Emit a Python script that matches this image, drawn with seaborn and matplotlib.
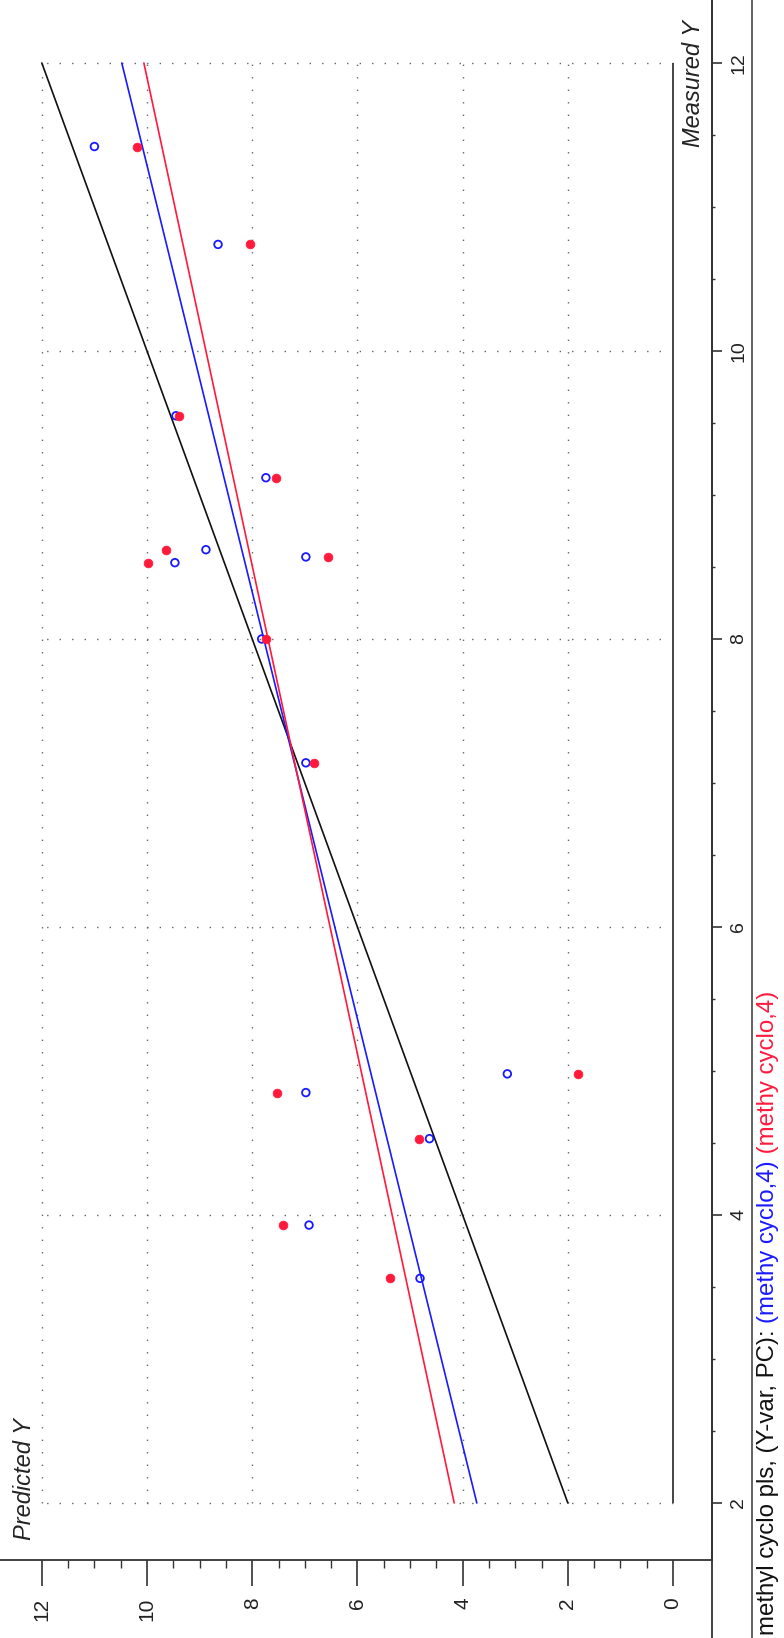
import numpy as np
import pandas as pd
import matplotlib
matplotlib.use("Agg")
import matplotlib.pyplot as plt
import seaborn as sns
from matplotlib.ticker import FixedLocator
from matplotlib.lines import Line2D

# ---------------- data ----------------
measured = [11.42, 10.74, 9.55, 9.12, 8.62, 8.53, 8.57, 8.00, 7.14, 4.98, 4.85, 4.53, 3.93, 3.56]
pred_blue = [11.00, 8.65, 9.45, 7.74, 8.88, 9.47, 6.98, 7.82, 6.98, 3.15, 6.98, 4.63, 6.92, 4.81]
pred_red = [10.19, 8.04, 9.39, 7.55, 9.63, 9.99, 6.55, 7.74, 6.82, 1.80, 7.52, 4.82, 7.41, 5.38]

line_measured = [2, 12]
line_black = [2, 12]          # target (identity) line
line_blue = [3.73, 10.48]     # fitted line, series 1
line_red = [4.16, 10.06]      # fitted line, series 2

pred_ticks = [0, 2, 4, 6, 8, 10, 12]
pred_minor = [v for v in np.arange(0.5, 12.0, 0.5) if v % 2 != 0]
meas_ticks = [2, 4, 6, 8, 10, 12]
meas_minor = [v for v in np.arange(2.5, 12.0, 0.5) if v % 2 != 0]
pred_grid = [2, 4, 6, 8, 10, 12]

x_label = "Predicted Y"
y_label = "Measured Y"
title_parts = ["methyl cyclo pls, (Y-var, PC): ", "(methy cyclo,4)", " (methy cyclo,4)"]
title_colors = ["#111111", "#1a1aff", "#ff1a3c"]

BLUE = "#1a1aff"
RED = "#ff1a3c"
AX = "#333333"

# ---------------- style ----------------
sns.set_theme(style="white")
plt.rcParams["font.family"] = ["Liberation Sans", "DejaVu Sans"]

fig = plt.figure(figsize=(7.84, 16.38), dpi=100)
W, H = 784.0, 1638.0
ax = fig.add_axes([0, 78 / H, 712 / W, 1560 / H])
ax.set_facecolor("white")

pts = pd.DataFrame({"measured": measured, "blue": pred_blue, "red": pred_red})
lines = pd.DataFrame({"measured": line_measured, "black": line_black,
                      "blue": line_blue, "red": line_red})

# grid
grid_kw = dict(color="#666666", linewidth=1.0, linestyle=(0, (1.0, 8.0)), zorder=1)
ax.vlines(pred_grid, 2, 12, **grid_kw)
ax.hlines(meas_ticks, 0, 12, **grid_kw)
ax.vlines([0], 2, 12, color="#444444", linewidth=1.4, zorder=1)

# lines
sns.lineplot(data=lines, x="black", y="measured", color="#111111", linewidth=1.2,
             sort=False, ax=ax, zorder=2)
sns.lineplot(data=lines, x="blue", y="measured", color=BLUE, linewidth=1.2,
             sort=False, ax=ax, zorder=2)
sns.lineplot(data=lines, x="red", y="measured", color=RED, linewidth=1.2,
             sort=False, ax=ax, zorder=2)

# points
sns.scatterplot(data=pts, x="blue", y="measured", marker="o", s=30,
                facecolors="none", edgecolors=BLUE, linewidth=1.3, ax=ax, zorder=3)
sns.scatterplot(data=pts, x="red", y="measured", marker="o", s=40,
                color=RED, edgecolor=RED, linewidth=0.5, ax=ax, zorder=3)

# axes ranges (predicted increases to the left, measured increases upward)
ax.set_xlim(12.795, -0.741)
ax.set_ylim(1.604, 12.4375)

for s in ["top", "left"]:
    ax.spines[s].set_visible(False)
for s in ["bottom", "right"]:
    ax.spines[s].set_visible(True)
    ax.spines[s].set_color(AX)
    ax.spines[s].set_linewidth(1.3)

ax.xaxis.set_major_locator(FixedLocator(pred_ticks))
ax.xaxis.set_minor_locator(FixedLocator(pred_minor))
ax.yaxis.set_major_locator(FixedLocator(meas_ticks))
ax.yaxis.set_minor_locator(FixedLocator(meas_minor))
ax.set_xticklabels([str(v) for v in pred_ticks])
ax.set_yticklabels([str(v) for v in meas_ticks])
ax.yaxis.tick_right()
ax.xaxis.tick_bottom()

ax.tick_params(axis="x", which="major", direction="out", length=19, width=1.2,
               color=AX, labelsize=15, labelrotation=90, pad=8, labelcolor="#222222")
ax.tick_params(axis="x", which="minor", direction="out", length=6, width=1.0, color=AX,
               bottom=True)
ax.tick_params(axis="y", which="major", direction="out", length=7, width=1.2,
               color=AX, labelsize=14, labelrotation=90, pad=6, labelcolor="#222222",
               right=True, left=False)
ax.tick_params(axis="y", which="minor", direction="out", length=2.5, width=1.0, color=AX,
               right=True, left=False)
for lab in ax.get_yticklabels():
    lab.set_verticalalignment("center")
ax.set_xlabel("")
ax.set_ylabel("")
ax.grid(False)

# axis titles inside the plot
ax.text(25 / 712, (1560 - 1540) / 1560, x_label, transform=ax.transAxes, rotation=90,
        ha="center", va="bottom", fontsize=17, style="italic", color="#222222")
ax.text(694 / 712, (1560 - 20) / 1560, y_label, transform=ax.transAxes, rotation=90,
        ha="center", va="top", fontsize=17, style="italic", color="#222222")

# frame lines outside the axes
fig.add_artist(Line2D([712 / W, 712 / W], [0, 1], color=AX, linewidth=1.3))
fig.add_artist(Line2D([752 / W, 752 / W], [0, 1], color="#555555", linewidth=1.3))

# multi-coloured title on the right edge
fig.canvas.draw()
renderer = fig.canvas.get_renderer()
y = 3 / H
for txt, col in zip(title_parts, title_colors):
    t = fig.text(768 / W, y, txt, rotation=90, ha="center", va="bottom",
                 color=col, fontsize=17.3)
    bb = t.get_window_extent(renderer)
    y = bb.y1 / fig.bbox.height

fig.savefig("out.png", dpi=100, facecolor="white")
